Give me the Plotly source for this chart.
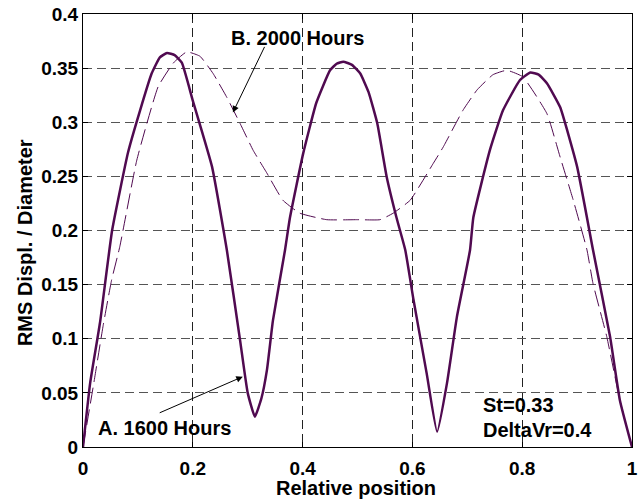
import plotly.graph_objects as go

# Data
x_a = [0, 0.013, 0.031, 0.053, 0.082, 0.104, 0.125, 0.14, 0.153, 0.167, 0.18, 0.2, 0.235, 0.262,
       0.286, 0.300, 0.313, 0.325, 0.335, 0.346, 0.368, 0.377, 0.401, 0.425, 0.45, 0.462, 0.474,
       0.49, 0.505, 0.52, 0.536, 0.553, 0.571, 0.587, 0.602, 0.626, 0.645, 0.663, 0.681, 0.705,
       0.711, 0.741, 0.765, 0.796, 0.815, 0.83, 0.845, 0.869, 0.9, 0.929, 0.96, 0.978, 1.0]
y_a = [0, 0.059, 0.115, 0.2, 0.272, 0.311, 0.345, 0.36, 0.364, 0.362, 0.355, 0.32, 0.259, 0.182,
       0.099, 0.05, 0.028, 0.045, 0.071, 0.117, 0.182, 0.212, 0.271, 0.318, 0.348, 0.354, 0.356,
       0.353, 0.345, 0.328, 0.299, 0.25, 0.212, 0.182, 0.136, 0.068, 0.014, 0.059, 0.12, 0.182,
       0.212, 0.274, 0.311, 0.339, 0.346, 0.344, 0.336, 0.314, 0.259, 0.182, 0.102, 0.043, 0]

x_b = [0, 0.02, 0.037, 0.052, 0.067, 0.098, 0.137, 0.165, 0.189, 0.213, 0.237, 0.262, 0.286,
       0.31, 0.335, 0.364, 0.395, 0.444, 0.5, 0.541, 0.565, 0.596, 0.638, 0.656, 0.692, 0.718,
       0.747, 0.772, 0.801, 0.845, 0.869, 0.893, 0.918, 0.929, 0.954, 0.978, 1.0]
y_b = [0, 0.06, 0.113, 0.154, 0.185, 0.265, 0.333, 0.355, 0.365, 0.361, 0.345, 0.323, 0.299,
       0.274, 0.253, 0.228, 0.216, 0.21, 0.21, 0.21, 0.216, 0.228, 0.262, 0.277, 0.311, 0.33,
       0.344, 0.348, 0.342, 0.308, 0.268, 0.228, 0.182, 0.151, 0.102, 0.043, 0]

x_ticks = [0, 0.2, 0.4, 0.6, 0.8, 1]
x_ticklabels = ["0", "0.2", "0.4", "0.6", "0.8", "1"]
y_ticks = [0, 0.05, 0.1, 0.15, 0.2, 0.25, 0.3, 0.35, 0.4]
y_ticklabels = ["0", "0.05", "0.1", "0.15", "0.2", "0.25", "0.3", "0.35", "0.4"]

LINE = "rgb(80,10,80)"
FONT = "Liberation Sans, Arial, sans-serif"

fig = go.Figure()
fig.add_trace(go.Scatter(x=x_b, y=y_b, mode="lines",
                         line=dict(color=LINE, width=1, dash="16px,6px",
                                   shape="spline", smoothing=0.4),
                         name="B. 2000 Hours", showlegend=False))
fig.add_trace(go.Scatter(x=x_a, y=y_a, mode="lines",
                         line=dict(color=LINE, width=2.5, shape="spline", smoothing=0.4),
                         name="A. 1600 Hours", showlegend=False))

axis_common = dict(
    showline=True, linecolor="black", linewidth=1, mirror="ticks",
    ticks="inside", ticklen=5, tickcolor="black",
    showgrid=True, gridwidth=1, griddash="9px,5px",
    zeroline=False, automargin=False,
    tickfont=dict(family=FONT, size=19, color="black", weight="bold"),
)

fig.update_xaxes(range=[0, 1], tickvals=x_ticks, ticktext=x_ticklabels,
                 gridcolor="#222", ticklabelstandoff=4, **axis_common)
fig.update_yaxes(range=[0, 0.4], tickvals=y_ticks, ticktext=y_ticklabels,
                 gridcolor="#555", ticklabelstandoff=0, **axis_common)

bold = dict(family=FONT, size=20, color="black", weight="bold")

# arrows
fig.add_annotation(x=0.273, y=0.309, ax=0.332, ay=0.371, axref="x", ayref="y",
                   xref="x", yref="y", text="", showarrow=True,
                   arrowhead=2, arrowsize=1.3, arrowwidth=1, arrowcolor="black")
fig.add_annotation(x=0.291, y=0.065, ax=0.137, ay=0.031, axref="x", ayref="y",
                   xref="x", yref="y", text="", showarrow=True,
                   arrowhead=2, arrowsize=1.3, arrowwidth=1, arrowcolor="black")

# labels
fig.add_annotation(x=0.266, y=0.378, xref="x", yref="y", text="B. 2000 Hours",
                   showarrow=False, xanchor="left", yanchor="middle", font=bold)
fig.add_annotation(x=0.024, y=0.0176, xref="x", yref="y", text="A. 1600 Hours",
                   showarrow=False, xanchor="left", yanchor="middle", font=bold)
fig.add_annotation(x=0.725, y=0.0388, xref="x", yref="y", text="St=0.33",
                   showarrow=False, xanchor="left", yanchor="middle", font=bold)
fig.add_annotation(x=0.725, y=0.0157, xref="x", yref="y", text="DeltaVr=0.4",
                   showarrow=False, xanchor="left", yanchor="middle", font=bold)

# axis titles
fig.add_annotation(x=-0.1056, y=0.471, xref="paper", yref="paper", text="RMS Displ. / Diameter",
                   showarrow=False, textangle=-90, xanchor="center", yanchor="middle",
                   font=dict(family=FONT, size=20, color="black", weight="bold"))
fig.add_annotation(x=0.498, y=-0.0947, xref="paper", yref="paper", text="Relative position",
                   showarrow=False, xanchor="center", yanchor="middle",
                   font=dict(family=FONT, size=20, color="black", weight="bold"))

fig.update_layout(
    width=643, height=499,
    margin=dict(l=83, r=11, t=14, b=52),
    paper_bgcolor="white", plot_bgcolor="white",
    showlegend=False,
)

fig.write_html("out.html")
